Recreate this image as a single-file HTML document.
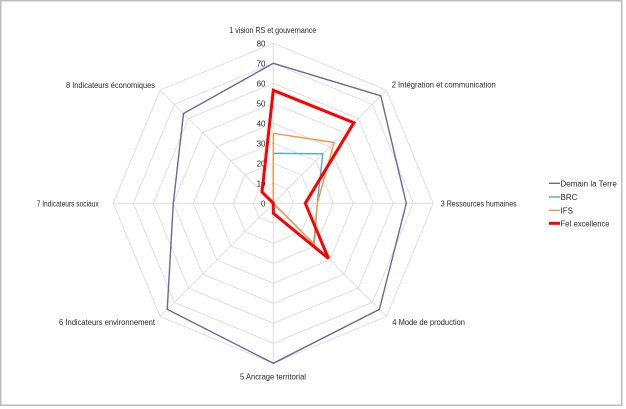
<!DOCTYPE html>
<html><head><meta charset="utf-8"><style>
html,body{margin:0;padding:0;background:#fff;}
svg{display:block;}
text{font-family:"Liberation Sans",sans-serif;fill:#262626;}
</style></head><body>
<svg width="626" height="409" viewBox="0 0 626 409" xmlns="http://www.w3.org/2000/svg">
<rect x="0" y="0" width="626" height="409" fill="#fff"/>
<rect x="0.75" y="0.75" width="621" height="404.5" fill="none" stroke="#bcbcbc" stroke-width="1.5"/>
<g fill="none" stroke="#d9d9d9" stroke-width="0.8">
<polygon points="273.3,183.3 287.44,189.16 293.3,203.3 287.44,217.44 273.3,223.3 259.16,217.44 253.3,203.3 259.16,189.16"/>
<polygon points="273.3,163.3 301.58,175.02 313.3,203.3 301.58,231.58 273.3,243.3 245.02,231.58 233.3,203.3 245.02,175.02"/>
<polygon points="273.3,143.3 315.73,160.87 333.3,203.3 315.73,245.73 273.3,263.3 230.87,245.73 213.3,203.3 230.87,160.87"/>
<polygon points="273.3,123.3 329.87,146.73 353.3,203.3 329.87,259.87 273.3,283.3 216.73,259.87 193.3,203.3 216.73,146.73"/>
<polygon points="273.3,103.3 344.01,132.59 373.3,203.3 344.01,274.01 273.3,303.3 202.59,274.01 173.3,203.3 202.59,132.59"/>
<polygon points="273.3,83.3 358.15,118.45 393.3,203.3 358.15,288.15 273.3,323.3 188.45,288.15 153.3,203.3 188.45,118.45"/>
<polygon points="273.3,63.3 372.29,104.31 413.3,203.3 372.29,302.29 273.3,343.3 174.31,302.29 133.3,203.3 174.31,104.31"/>
<polygon points="273.3,43.3 386.44,90.16 433.3,203.3 386.44,316.44 273.3,363.3 160.16,316.44 113.3,203.3 160.16,90.16"/>
<line x1="273.3" y1="203.3" x2="273.3" y2="43.3"/>
<line x1="273.3" y1="203.3" x2="386.44" y2="90.16"/>
<line x1="273.3" y1="203.3" x2="433.3" y2="203.3"/>
<line x1="273.3" y1="203.3" x2="386.44" y2="316.44"/>
<line x1="273.3" y1="203.3" x2="273.3" y2="363.3"/>
<line x1="273.3" y1="203.3" x2="160.16" y2="316.44"/>
<line x1="273.3" y1="203.3" x2="113.3" y2="203.3"/>
<line x1="273.3" y1="203.3" x2="160.16" y2="90.16"/>
</g>
<g font-size="8" text-anchor="end">
<text x="265.5" y="46.3">80</text>
<text x="265.5" y="66.3">70</text>
<text x="265.5" y="86.3">60</text>
<text x="265.5" y="106.3">50</text>
<text x="265.5" y="126.3">40</text>
<text x="265.5" y="146.3">30</text>
<text x="265.5" y="166.3">20</text>
<text x="265.5" y="186.3">10</text>
<text x="265.5" y="206.3">0</text>
</g>
<g font-size="8.5">
<text x="229.3" y="33" textLength="87" lengthAdjust="spacingAndGlyphs">1 vision RS et gouvernance</text>
<text x="391.7" y="87.3" textLength="104" lengthAdjust="spacingAndGlyphs">2 Intégration et communication</text>
<text x="440.7" y="206.3" textLength="76" lengthAdjust="spacingAndGlyphs">3 Ressources humaines</text>
<text x="392.3" y="325" textLength="72.7" lengthAdjust="spacingAndGlyphs">4 Mode de production</text>
<text x="240" y="379.7" textLength="66" lengthAdjust="spacingAndGlyphs">5 Ancrage territorial</text>
<text x="59" y="325" textLength="96" lengthAdjust="spacingAndGlyphs">6 Indicateurs environnement</text>
<text x="36.7" y="206.3" textLength="62" lengthAdjust="spacingAndGlyphs">7 Indicateurs sociaux</text>
<text x="66" y="88" textLength="89" lengthAdjust="spacingAndGlyphs">8 Indicateurs économiques</text>
</g>
<g fill="none" stroke-linejoin="miter">
<polygon points="273.3,63.3 380.78,95.82 406.3,203.3 379.37,309.37 273.3,363.3 167.23,309.37 173.3,203.3 183.5,113.5" stroke="#7560a0" stroke-width="1.4"/>
<polygon points="273.3,153.3 322.8,153.8 317.3,203.3 314.3,244.3 273.3,203.3 273.3,203.3 273.3,203.3 273.3,203.3" stroke="#4bacc6" stroke-width="1.4"/>
<polygon points="273.3,133.3 334.1,142.5 317.3,203.3 313.6,243.6 273.3,203.3 273.3,203.3 273.3,203.3 273.3,203.3" stroke="#f79646" stroke-width="1.4"/>
<polygon points="273.3,90.3 353.9,122.7 305.3,203.3 328.5,258.5 273.3,213.3 273.3,203.3 273.3,203.3 262,192" stroke="#ff0000" stroke-width="3"/>
</g>
<g stroke-linecap="butt">
<line x1="549" y1="183.3" x2="560" y2="183.3" stroke="#7560a0" stroke-width="1.4"/>
<line x1="549" y1="197" x2="560" y2="197" stroke="#4bacc6" stroke-width="1.4"/>
<line x1="549" y1="210.3" x2="560" y2="210.3" stroke="#f79646" stroke-width="1.4"/>
<line x1="549" y1="223.3" x2="560" y2="223.3" stroke="#ff0000" stroke-width="3"/>
</g>
<g font-size="8">
<text x="560.5" y="186.3" textLength="56.4" lengthAdjust="spacingAndGlyphs">Demain la Terre</text>
<text x="560.5" y="200">BRC</text>
<text x="560.5" y="213.3">IFS</text>
<text x="560.5" y="226.3" textLength="49" lengthAdjust="spacingAndGlyphs">FeI excellence</text>
</g>
</svg>
</body></html>
